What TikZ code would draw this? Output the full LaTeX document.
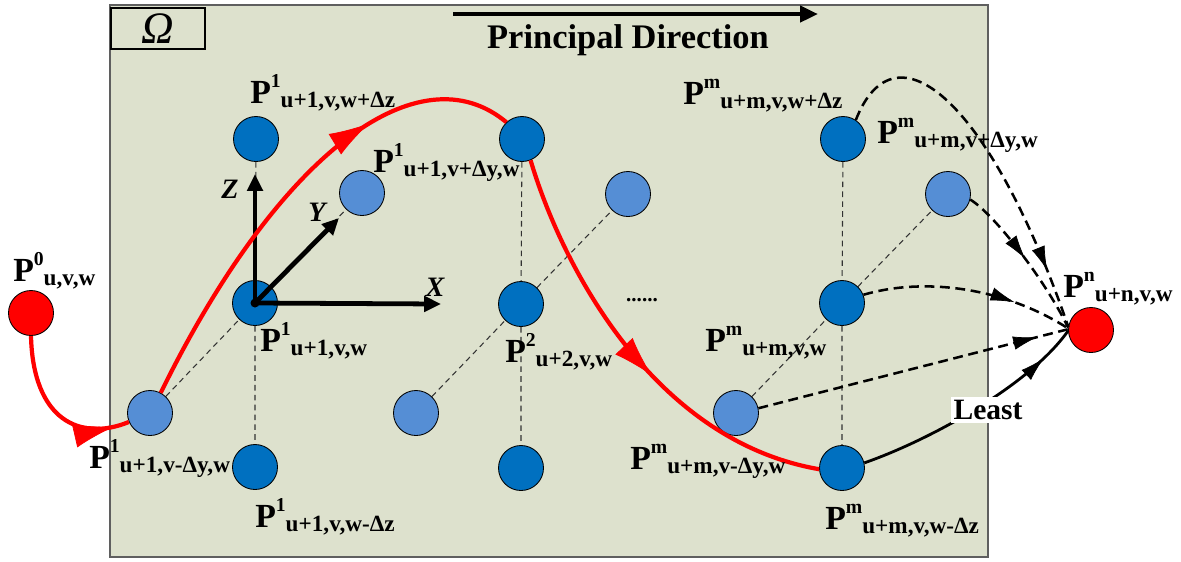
\documentclass[tikz,border=0pt]{standalone}
\usepackage{fontspec}
\setmainfont{Liberation Serif}
\usetikzlibrary{arrows.meta,decorations.markings}
\definecolor{panelbg}{RGB}{221,225,205}
\definecolor{panelrim}{RGB}{95,95,95}
\definecolor{ptdark}{RGB}{0,112,192}
\definecolor{ptlight}{RGB}{85,142,213}
\definecolor{ptred}{RGB}{255,0,0}
\definecolor{gridgray}{RGB}{50,50,50}

% P^{sup} followed by a lowered subscript
\newcommand{\plab}[2]{P\raisebox{11pt}{\fontsize{14}{14}\selectfont #1}\raisebox{-3pt}{\fontsize{16.5}{16.5}\selectfont #2}}

\tikzset{
  ptnode/.style={circle,draw=black,line width=0.6pt,minimum size=1.125cm,inner sep=0pt},
  dkpt/.style={ptnode,fill=ptdark},
  ltpt/.style={ptnode,fill=ptlight},
  rdpt/.style={ptnode,fill=ptred},
  plabel/.style={anchor=base west,inner sep=0pt,font=\fontsize{24}{28}\selectfont\bfseries},
  gridline/.style={gridgray,line width=0.75pt,dash pattern=on 4pt off 3pt},
  axisarrow/.style={line width=3.4pt,-{Triangle[length=0.42cm,width=0.38cm]}},
  midarrow/.style 2 args={postaction={decorate,decoration={markings,
      mark=at position #1 with {\arrow[solid,line width=0.5pt]{#2}}}}},
  redpath/.style={ptred,line width=3pt},
  redtip/.style={midarrow={#1}{Latex[length=1.0cm,width=0.6cm]}},
  blacktip/.style={midarrow={#1}{Latex[length=0.6cm,width=0.34cm]}},
  toend/.style={line width=1.8pt,dash pattern=on 7pt off 4pt},
}

\begin{document}
\begin{tikzpicture}[x=0.025cm,y=-0.025cm]
  \useasboundingbox (0,0) rectangle (1181,561);

  % ── PANEL ─────────────────────────────────────────────
  \fill[white] (0,0) rectangle (1181,561);
  \draw[panelrim,fill=panelbg,line width=1pt] (110,5) rectangle (988,557);
  \node[draw=black,line width=1.5pt,minimum width=2.35cm,minimum height=1.02cm,
        anchor=north west,font=\fontsize{32}{34}\selectfont\itshape] (omega) at (110,7) {Ω};

  % principal direction
  \coordinate (dirA) at (453,14);
  \coordinate (dirB) at (818,14);
  \draw[line width=3.4pt,-{Triangle[length=0.45cm,width=0.4cm]}] (dirA) -- (dirB);
  \node[font=\fontsize{24.5}{28}\selectfont\bfseries] (dirlabel) at (628,40) {Principal Direction};

  % ── LATTICE POINTS ────────────────────────────────────
  \node[rdpt] (p0) at (31,313) {};
  \node[rdpt] (pn) at (1091,330) {};

  \node[dkpt] (p1top) at (256,139) {};
  \node[ltpt] (p1yp)  at (362,193) {};
  \node[dkpt] (p1mid) at (255,303) {};
  \node[ltpt] (p1ym)  at (150,413) {};
  \node[dkpt] (p1bot) at (255,467) {};

  \node[dkpt] (p2top) at (522,139) {};
  \node[ltpt] (p2yp)  at (628,194) {};
  \node[dkpt] (p2mid) at (521,304) {};
  \node[ltpt] (p2ym)  at (416,413) {};
  \node[dkpt] (p2bot) at (521,468) {};

  \node[dkpt] (pmtop) at (843,139) {};
  \node[ltpt] (pmyp)  at (948,194) {};
  \node[dkpt] (pmmid) at (842,303) {};
  \node[ltpt] (pmym)  at (736,413) {};
  \node[dkpt] (pmbot) at (842,468) {};

  % dashed grid lines
  \foreach \c in {p1,p2,pm}{
    \draw[gridline] (\c top) -- (\c mid) -- (\c bot);
    \draw[gridline] (\c ym) -- (\c mid) -- (\c yp);
  }

  % ── AXES ──────────────────────────────────────────────
  \coordinate (axX) at (441,304);
  \coordinate (axY) at (339,218);
  \coordinate (axZ) at (255,174);
  \draw[axisarrow] (p1mid.center) -- (axX);
  \draw[axisarrow] (p1mid.center) -- (axY);
  \draw[axisarrow] (p1mid.center) -- (axZ);
  \fill (p1mid.center) circle (4.5);
  \node[font=\fontsize{20}{22}\selectfont\bfseries\itshape] (labX) at (435,287) {X};
  \node[font=\fontsize{20}{22}\selectfont\bfseries\itshape] (labY) at (317,212) {Y};
  \node[font=\fontsize{20}{22}\selectfont\bfseries\itshape] (labZ) at (230,189) {Z};

  % ── RED PATH ──────────────────────────────────────────
  \draw[redpath,redtip=0.9]
    (p0.south) .. controls (33,420) and (80,442) .. (p1ym.203);
  \draw[redpath,redtip=0.7]
    (p1ym.62) .. controls (280,150) and (420,50) .. (p2top.133);
  \draw[redpath,redtip=0.56]
    (p2top.-68) .. controls (560,260) and (650,440) .. (pmbot.183);

  % ── PATHS TO THE END POINT ────────────────────────────
  \draw[toend,blacktip=0.84]
    (pmtop.56) .. controls (895,20) and (990,100) .. (pn.172);
  \draw[toend,blacktip=0.5]
    (pmyp.-14) .. controls (995,215) and (1045,280) .. (pn.174);
  \draw[toend,blacktip=0.72]
    (pmmid.21) .. controls (920,278) and (1000,285) .. (pn.176);
  \draw[toend,blacktip=0.9]
    (pmym.12) -- (pn.178);
  \draw[line width=2pt,blacktip=0.85]
    (pmbot.13) .. controls (930,440) and (1030,385) .. (pn.182);
  \node[fill=white,inner sep=2pt,font=\fontsize{21}{24}\selectfont\bfseries] (least) at (988,410) {Least};

  % ── LABELS ────────────────────────────────────────────
  \node[plabel] (l0)   at (13,281)  {\plab{0}{u,v,w}};
  \node[plabel] (l1t)  at (250,103) {\plab{1}{u+1,v,w+Δz}};
  \node[plabel] (l1yp) at (373,172) {\plab{1}{u+1,v+Δy,w}};
  \node[plabel] (l1m)  at (260,351) {\plab{1}{u+1,v,w}};
  \node[plabel] (l1ym) at (89,468)  {\plab{1}{u+1,v-Δy,w}};
  \node[plabel] (l1b)  at (255,527) {\plab{1}{u+1,v,w-Δz}};
  \node[plabel] (l2m)  at (505,362) {\plab{2}{u+2,v,w}};
  \node[font=\fontsize{15}{18}\selectfont\bfseries] (dots) at (642,300) {......};
  \node[plabel] (lmt)  at (683,104) {\plab{m}{u+m,v,w+Δz}};
  \node[plabel] (lmyp) at (877,143) {\plab{m}{u+m,v+Δy,w}};
  \node[plabel] (lmm)  at (705,351) {\plab{m}{u+m,v,w}};
  \node[plabel] (lmym) at (630,469) {\plab{m}{u+m,v-Δy,w}};
  \node[plabel] (lmb)  at (825,529) {\plab{m}{u+m,v,w-Δz}};
  \node[plabel] (lnn)  at (1063,297) {\plab{n}{u+n,v,w}};

\end{tikzpicture}
\end{document}
